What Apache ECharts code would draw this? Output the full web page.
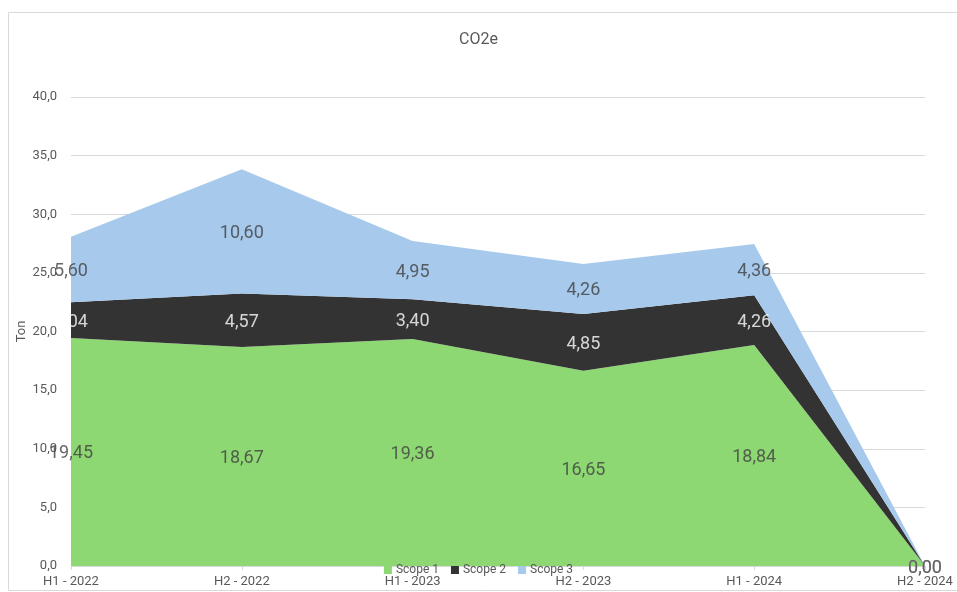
<!DOCTYPE html>
<html>
<head>
<meta charset="utf-8">
<script src="https://cdn.jsdelivr.net/npm/echarts@6/dist/echarts.min.js"></script>
<style>html,body{margin:0;padding:0;background:#fff;}#c{width:957px;height:592px;}</style>
</head>
<body>
<div id="c"></div>
<script>
var categories = ['H1 - 2022', 'H2 - 2022', 'H1 - 2023', 'H2 - 2023', 'H1 - 2024', 'H2 - 2024'];
var scope1 = [19.45, 18.67, 19.36, 16.65, 18.84, 0];
var scope2 = [3.04, 4.57, 3.40, 4.85, 4.26, 0];
var scope3 = [5.60, 10.60, 4.95, 4.26, 4.36, 0];
var yTicks = [0, 5, 10, 15, 20, 25, 30, 35, 40];

var FONT = 'Roboto, "Liberation Sans", sans-serif';
var colors = ['#8ed873', '#333333', '#a6c9ec'];
var names = ['Scope 1', 'Scope 2', 'Scope 3'];
var series = [scope1, scope2, scope3];

function fmt(v) { return v.toFixed(2).replace('.', ','); }

var opts = [];
series.forEach(function (arr, i) {
  opts.push({
    name: names[i], type: 'line', stack: 'total', data: arr,
    symbol: 'none', lineStyle: { width: 0 },
    areaStyle: { color: colors[i], opacity: 1 },
    itemStyle: { color: colors[i] }, z: 2
  });
});
var labelColors = ['#404040', '#ffffff', '#404040'];
var order = [2, 1, 0];
order.forEach(function (i) {
  var mids = series[i].map(function (v, k) {
    var base = 0;
    for (var j = 0; j < i; j++) base += series[j][k];
    return [k, base + v / 2, v];
  });
  opts.push({
    type: 'scatter', data: mids, symbolSize: 0, silent: true, z: 10 + (3 - i),
    label: {
      show: true, position: 'inside', offset: [0, 2], color: labelColors[i], fontSize: 18, fontFamily: FONT,
      formatter: function (p) { return fmt(p.data[2]); }
    }
  });
});

var chart = echarts.init(document.getElementById('c'));
chart.setOption({
  animation: false,
  title: { text: 'CO2e', left: 'center', top: 27, textStyle: { color: '#595959', fontSize: 16, fontWeight: 'normal', fontFamily: FONT } },
  legend: {
    data: names, top: 559, left: 'center', itemWidth: 8, itemHeight: 8, itemGap: 12,
    icon: 'rect', textStyle: { color: '#595959', fontSize: 12, fontFamily: FONT, padding: [0, 0, 0, -1] }
  },
  grid: { left: 71, right: 32, top: 97, bottom: 26 },
  xAxis: {
    type: 'category', data: categories, boundaryGap: false,
    axisLine: { lineStyle: { color: '#d9d9d9' } },
    axisTick: { show: true, lineStyle: { color: '#d9d9d9' }, length: 4 },
    axisLabel: { color: '#595959', fontSize: 13, fontFamily: FONT, margin: 9 }
  },
  yAxis: {
    type: 'value', min: 0, max: 40, interval: 5,
    name: 'Ton', nameLocation: 'middle', nameGap: 43, nameRotate: 90, nameMoveOverlap: false,
    nameTextStyle: { color: '#595959', fontSize: 13, fontFamily: FONT },
    axisLine: { show: false }, axisTick: { show: false },
    axisLabel: { color: '#595959', fontSize: 13, fontFamily: FONT, margin: 14, formatter: function (v) { return v.toFixed(1).replace('.', ','); } },
    splitLine: { lineStyle: { color: '#d9d9d9' } }
  },
  graphic: [{ type: 'rect', shape: { x: 8.5, y: 12.5, width: 960, height: 578 }, style: { fill: 'none', stroke: '#d9d9d9', lineWidth: 1 }, silent: true, z: -1 }],
  series: opts
});
</script>
</body>
</html>
